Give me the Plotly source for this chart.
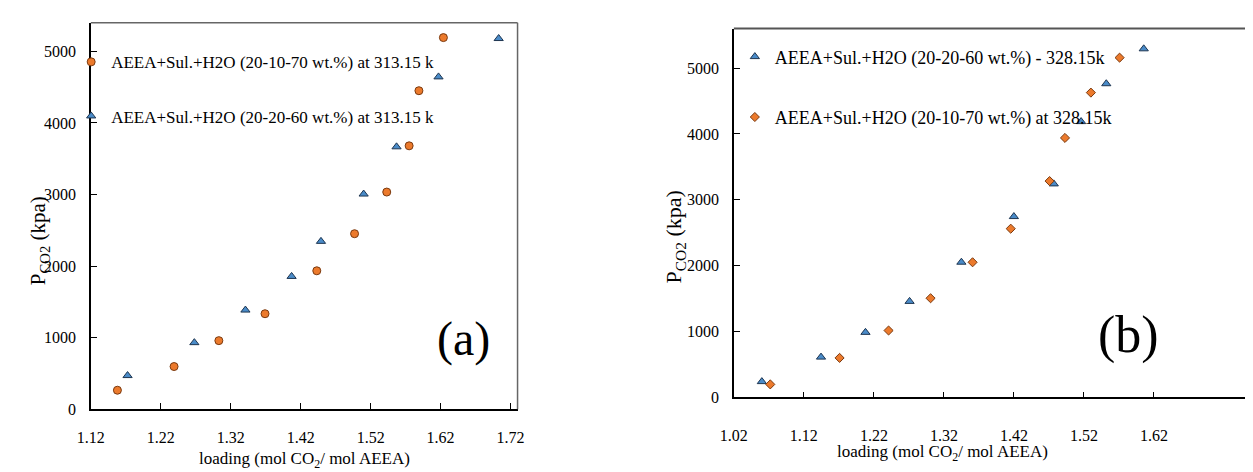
import plotly.graph_objects as go

# ---------- Data ----------
# Panel (a): 313.15 K
a_circ_x = [1.158, 1.239, 1.303, 1.369, 1.443, 1.497, 1.543, 1.575, 1.589, 1.624]
a_circ_y = [265, 596, 958, 1334, 1934, 2452, 3034, 3680, 4450, 5192]
a_tri_x = [1.1725, 1.268, 1.341, 1.407, 1.449, 1.510, 1.557, 1.617, 1.703]
a_tri_y = [470, 930, 1385, 1855, 2345, 3006, 3666, 4643, 5179]

# Panel (b): 328.15 K
b_tri_x = [1.060, 1.1445, 1.208, 1.271, 1.345, 1.420, 1.477, 1.516, 1.552, 1.6055]
b_tri_y = [240, 612, 988, 1458, 2053, 2746, 3242, 4188, 4763, 5293]
b_dia_x = [1.072, 1.171, 1.241, 1.301, 1.361, 1.4155, 1.471, 1.493, 1.530, 1.571]
b_dia_y = [198, 600, 1016, 1506, 2052, 2562, 3285, 3940, 4628, 5159]

# Tick values
a_xticks = [1.12, 1.22, 1.32, 1.42, 1.52, 1.62, 1.72]
b_xticks = [1.02, 1.12, 1.22, 1.32, 1.42, 1.52, 1.62]
a_yticks = [0, 1000, 2000, 3000, 4000, 5000]
b_yticks = [0, 1000, 2000, 3000, 4000, 5000]

name_a1 = "AEEA+Sul.+H2O (20-10-70 wt.%) at 313.15 k"
name_a2 = "AEEA+Sul.+H2O (20-20-60 wt.%) at 313.15 k"
name_b1 = "AEEA+Sul.+H2O (20-20-60 wt.%) - 328.15k"
name_b2 = "AEEA+Sul.+H2O (20-10-70 wt.%) at 328.15k"

FONT = "Liberation Serif"
ORANGE = "#EC7A2C"
ORANGE_EDGE = "#7A3A10"
BLUE = "#4A8BC8"
BLUE_EDGE = "#1E3550"

W, H = 1253, 472

fig = go.Figure()
fig.add_trace(go.Scatter(
    x=a_circ_x, y=a_circ_y, mode="markers", name=name_a1,
    marker=dict(symbol="circle", size=8, color=ORANGE, line=dict(color=ORANGE_EDGE, width=1)),
    xaxis="x", yaxis="y", legend="legend", legendgroup="a1"))
fig.add_trace(go.Scatter(
    x=a_tri_x, y=a_tri_y, mode="markers", name=name_a2,
    marker=dict(symbol="triangle-up", size=8, color=BLUE, line=dict(color=BLUE_EDGE, width=1)),
    xaxis="x", yaxis="y", legend="legend", legendgroup="a2"))
fig.add_trace(go.Scatter(
    x=b_tri_x, y=b_tri_y, mode="markers", name=name_b1,
    marker=dict(symbol="triangle-up", size=8, color=BLUE, line=dict(color=BLUE_EDGE, width=1)),
    xaxis="x2", yaxis="y2", legend="legend2", legendgroup="b1"))
fig.add_trace(go.Scatter(
    x=b_dia_x, y=b_dia_y, mode="markers", name=name_b2,
    marker=dict(symbol="diamond", size=7, color=ORANGE, line=dict(color=ORANGE_EDGE, width=1)),
    xaxis="x2", yaxis="y2", legend="legend2", legendgroup="b2"))

def px_x(p):
    return p / W

def px_y(p):
    return 1 - p / H

TICKFONT = dict(family=FONT, size=16, color="black")
common_x = dict(showgrid=False, zeroline=False, showline=True, linecolor="black", linewidth=1.5,
                ticks="inside", ticklen=6, tickcolor="black", tickmode="array", tickformat=".2f",
                tickfont=TICKFONT, mirror=False)
common_y = dict(showgrid=False, zeroline=False, showline=True, linecolor="black", linewidth=1.5,
                ticks="inside", ticklen=6, tickcolor="black", tickmode="array",
                tickfont=TICKFONT, mirror=False)

fig.update_layout(
    width=W, height=H,
    margin=dict(l=0, r=0, t=0, b=0),
    paper_bgcolor="white", plot_bgcolor="white",
    showlegend=True,
    font=dict(family=FONT, color="black"),
    xaxis=dict(common_x, domain=[px_x(70), px_x(504)], range=[1.12, 1.73], tickvals=a_xticks,
               anchor="y", ticklabelstandoff=13),
    yaxis=dict(common_y, domain=[px_y(409), px_y(15)], range=[0, 5400], tickvals=a_yticks,
               anchor="x", ticklabelstandoff=10),
    xaxis2=dict(common_x, domain=[px_x(724), 1.0], range=[1.02, 1.763], tickvals=b_xticks,
                anchor="y2", ticklabelstandoff=23),
    yaxis2=dict(common_y, domain=[px_y(397), px_y(21)], range=[0, 5600], tickvals=b_yticks,
                anchor="x2", ticklabelstandoff=10),
    legend=dict(x=px_x(50), y=px_y(37), xanchor="left", yanchor="top",
                font=dict(family=FONT, size=17, color="black"), bgcolor="rgba(0,0,0,0)",
                traceorder="grouped", tracegroupgap=29, itemwidth=30),
    legend2=dict(x=px_x(725), y=px_y(31), xanchor="left", yanchor="top",
                 font=dict(family=FONT, size=18, color="black"), bgcolor="rgba(0,0,0,0)",
                 traceorder="grouped", tracegroupgap=34, itemwidth=30),
)

# top / right frame lines (grey)
fig.add_shape(type="line", xref="x domain", yref="y domain", x0=0, x1=1, y0=1, y1=1,
              line=dict(color="#666666", width=1.5))
fig.add_shape(type="line", xref="x domain", yref="y domain", x0=1, x1=1, y0=0, y1=1,
              line=dict(color="#666666", width=1.5))
fig.add_shape(type="line", xref="x2 domain", yref="y2 domain", x0=0, x1=1, y0=1, y1=1,
              line=dict(color="#555555", width=2))

ann_font = dict(family=FONT, color="black")
annotations = [
    dict(text="loading (mol CO<sub>2</sub>/ mol AEEA)", x=px_x(287), y=px_y(461), xref="paper", yref="paper",
         showarrow=False, font=dict(ann_font, size=17), xanchor="center", yanchor="middle"),
    dict(text="loading (mol CO<sub>2</sub>/ mol AEEA)", x=px_x(936), y=px_y(454), xref="paper", yref="paper",
         showarrow=False, font=dict(ann_font, size=17), xanchor="center", yanchor="middle"),
    dict(text="P<sub>CO2</sub> (kpa)", x=px_x(18), y=px_y(237), xref="paper", yref="paper", textangle=-90,
         showarrow=False, font=dict(ann_font, size=21), xanchor="center", yanchor="middle"),
    dict(text="P<sub>CO2</sub> (kpa)", x=px_x(664), y=px_y(233), xref="paper", yref="paper", textangle=-90,
         showarrow=False, font=dict(ann_font, size=22), xanchor="center", yanchor="middle"),
    dict(text="(a)", x=px_x(449), y=px_y(337), xref="paper", yref="paper",
         showarrow=False, font=dict(ann_font, size=48), xanchor="center", yanchor="middle"),
    dict(text="(b)", x=px_x(1125), y=px_y(333), xref="paper", yref="paper",
         showarrow=False, font=dict(ann_font, size=52), xanchor="center", yanchor="middle"),
]
fig.update_layout(annotations=annotations)

fig.write_html("out.html")
